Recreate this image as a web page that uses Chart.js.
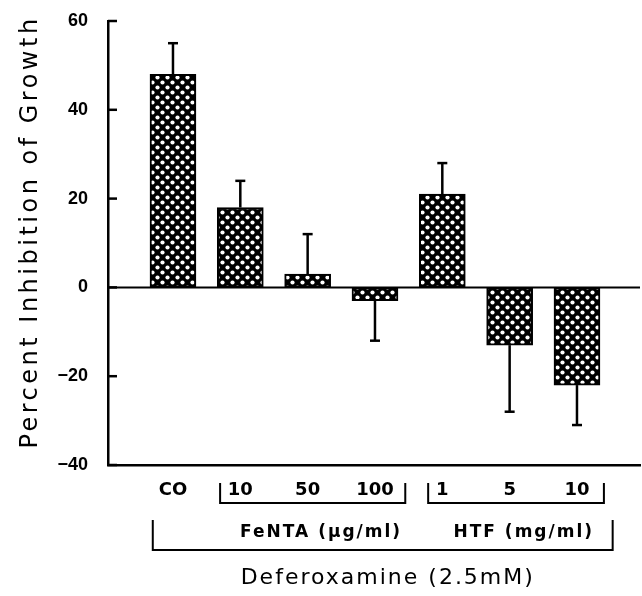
<!DOCTYPE html>
<html lang="en">
<head>
<meta charset="utf-8">
<title>Percent Inhibition of Growth</title>
<script src="https://cdn.jsdelivr.net/npm/chart.js@4.4.1/dist/chart.umd.min.js"></script>
<style>
  html, body { margin: 0; padding: 0; background: #fff; }
  canvas { display: block; }
</style>
</head>
<body>
<canvas id="chart" width="642" height="596"></canvas>
<script>
// values
const categories = ['CO', '10', '50', '100', '1', '5', '10'];
const inhibition = [48, 18, 3, -3, 21, -13, -22];
const errorEnd = [55, 24, 12, -12, 28, -28, -31];
const yTicks = [60, 40, 20, 0, -20, -40];
const groupLabels = ['FeNTA (\u03bcg/ml)', 'HTF (mg/ml)'];
const axisTitle = 'Percent Inhibition of Growth';
const treatmentLabel = 'Deferoxamine (2.5mM)';

const ctx = document.getElementById('chart').getContext('2d');

// black fill with white dots, like the printed hatching
function makePattern() {
  const c = document.createElement('canvas');
  c.width = 10; c.height = 10;
  const g = c.getContext('2d');
  g.fillStyle = '#000';
  g.fillRect(0, 0, 10, 10);
  g.fillStyle = '#fff';
  [[2.5, 2.5], [7.5, 7.5]].forEach(([x, y]) => {
    g.beginPath();
    g.arc(x, y, 2.1, 0, Math.PI * 2);
    g.fill();
  });
  return ctx.createPattern(c, 'repeat');
}

function line(c, x1, y1, x2, y2) {
  c.beginPath();
  c.moveTo(x1, y1);
  c.lineTo(x2, y2);
  c.stroke();
}

function bracket(c, x1, x2, top, bottom) {
  c.beginPath();
  c.moveTo(x1, top);
  c.lineTo(x1, bottom);
  c.lineTo(x2, bottom);
  c.lineTo(x2, top);
  c.stroke();
}

const decorations = {
  id: 'decorations',
  beforeDatasetsDraw(chart) {
    const { ctx: c, chartArea: a, scales: { y } } = chart;
    c.save();
    c.strokeStyle = '#000';
    c.lineWidth = 2;
    const y0 = y.getPixelForValue(0);
    line(c, a.left, y0, a.right, y0);
    // inward tick marks
    c.lineWidth = 2.5;
    y.ticks.forEach(t => {
      const py = y.getPixelForValue(t.value);
      line(c, a.left, py, a.left + 9, py);
    });
    c.restore();
  },
  afterDatasetsDraw(chart) {
    const { ctx: c, scales: { x, y } } = chart;
    c.save();
    c.strokeStyle = '#000';
    c.lineWidth = 2.5;
    inhibition.forEach((v, i) => {
      const px = x.getPixelForValue(i + 1);
      const from = y.getPixelForValue(v);
      const to = y.getPixelForValue(errorEnd[i]);
      line(c, px, from, px, to);
      line(c, px - 5, to, px + 5, to);
    });
    c.restore();
  },
  afterDraw(chart) {
    const { ctx: c, chartArea: a, scales: { x } } = chart;
    const b = a.bottom;
    c.save();
    c.strokeStyle = '#000';
    c.lineWidth = 2;
    bracket(c, x.getPixelForValue(1.70), x.getPixelForValue(4.45), b + 18, b + 38);
    bracket(c, x.getPixelForValue(4.79), x.getPixelForValue(7.40), b + 18, b + 38);
    bracket(c, x.getPixelForValue(0.70), x.getPixelForValue(7.53), b + 55, b + 85);

    c.fillStyle = '#000';
    c.textAlign = 'center';
    c.textBaseline = 'middle';
    c.font = 'bold 17px "DejaVu Sans"';
    c.letterSpacing = '2px';
    c.fillText(groupLabels[0], x.getPixelForValue(3.2), b + 68);
    c.fillText(groupLabels[1], x.getPixelForValue(6.21), b + 68);

    c.font = '22px "DejaVu Sans"';
    c.letterSpacing = '2px';
    c.fillText(treatmentLabel, x.getPixelForValue(4.19), b + 113);

    // rotated y title
    c.translate(31, 232);
    c.rotate(-Math.PI / 2);
    c.font = '24px "DejaVu Sans"';
    c.letterSpacing = '3.5px';
    c.fillText(axisTitle, 0, 0);
    c.restore();
  }
};

new Chart(ctx, {
  type: 'bar',
  data: {
    datasets: [{
      data: inhibition.map((v, i) => ({ x: i + 1, y: v })),
      backgroundColor: makePattern(),
      borderColor: '#000',
      borderWidth: 2,
      borderSkipped: false,
      barThickness: 46
    }]
  },
  options: {
    responsive: false,
    animation: false,
    layout: { padding: { top: 21, right: 2, left: 0, bottom: 0 } },
    plugins: { legend: { display: false }, tooltip: { enabled: false } },
    scales: {
      x: {
        type: 'linear',
        offset: false,
        min: 0.035,
        max: 7.936,
        grid: { display: false, drawTicks: false, offset: false },
        border: { display: true, color: '#000', width: 2.5 },
        afterBuildTicks: s => { s.ticks = categories.map((_, i) => ({ value: i + 1 })); },
        afterFit: s => { s.height = 131; s.paddingLeft = 0; s.paddingRight = 0; },
        ticks: {
          autoSkip: false,
          maxRotation: 0,
          padding: 15,
          color: '#000',
          font: { family: 'DejaVu Sans', size: 18, weight: 'bold' },
          callback: v => categories[v - 1]
        }
      },
      y: {
        min: -40,
        max: 60,
        grid: { display: false, drawTicks: false },
        border: { display: true, color: '#000', width: 2.5 },
        afterBuildTicks: s => { s.ticks = yTicks.map(v => ({ value: v })); },
        afterFit: s => { s.width = 108; s.paddingTop = 0; s.paddingBottom = 0; },
        ticks: {
          padding: 20,
          color: '#000',
          font: { family: 'Liberation Sans', size: 18, weight: 'bold' },
          callback: v => String(v).replace('-', '\u2212')
        }
      }
    }
  },
  plugins: [decorations]
});
</script>
</body>
</html>
